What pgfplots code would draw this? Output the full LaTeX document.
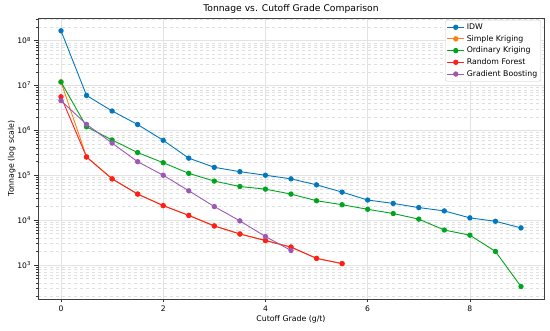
\documentclass[border=0pt]{standalone}
\usepackage{pgfplots}
\pgfplotsset{compat=1.18}
\usepackage{fontspec}
\setmainfont{DejaVu Sans}
\definecolor{cIDW}{RGB}{0,119,190}
\definecolor{cSK}{RGB}{255,127,14}
\definecolor{cOK}{RGB}{0,165,30}
\definecolor{cRF}{RGB}{255,30,30}
\definecolor{cGB}{RGB}{155,89,182}
\begin{document}
\begin{tikzpicture}
\useasboundingbox (-38pt,-31pt) rectangle (512pt,299pt);
\begin{axis}[
  at={(0,0)}, anchor=south west,
  scale only axis, width=506pt, height=281pt,
  ymode=log,
  xmin=-0.45, xmax=9.45,
  ymin=174, ymax=3.2e8,
  xtick={0,2,4,6,8},
  ytick={1e3,1e4,1e5,1e6,1e7,1e8},
  yticklabels={10\textsuperscript{3},10\textsuperscript{4},10\textsuperscript{5},10\textsuperscript{6},10\textsuperscript{7},10\textsuperscript{8}},
  minor ytick={200,300,400,500,600,700,800,900,
    2000,3000,4000,5000,6000,7000,8000,9000,
    2e4,3e4,4e4,5e4,6e4,7e4,8e4,9e4,
    2e5,3e5,4e5,5e5,6e5,7e5,8e5,9e5,
    2e6,3e6,4e6,5e6,6e6,7e6,8e6,9e6,
    2e7,3e7,4e7,5e7,6e7,7e7,8e7,9e7,
    2e8,3e8},
  /pgf/number format/assume math mode=true,
  tick align=outside,
  xtick pos=left, ytick pos=left,
  major tick length=3.5pt, minor tick length=2pt,
  tick style={black!80, line width=0.5pt},
  axis line style={black!75, line width=0.7pt},
  grid=both,
  xminorgrids=false,
  major grid style={gray!22, line width=0.5pt},
  minor grid style={gray!25, line width=0.4pt, dashed},
  ticklabel style={font=\fontsize{7.6}{9}\selectfont},
  title={Tonnage vs. Cutoff Grade Comparison},
  title style={font=\fontsize{9.2}{11}\selectfont, yshift=-5pt},
  xlabel={Cutoff Grade (g/t)},
  ylabel={Tonnage (log scale)},
  label style={font=\fontsize{7.8}{9}\selectfont},
  xlabel style={yshift=3pt},
  ylabel style={yshift=-5pt},
  legend cell align=left,
  legend style={font=\fontsize{7.8}{9}\selectfont, draw=gray!40, rounded corners=1.5pt, at={(0.994,0.993)}, anchor=north east, inner sep=1.5pt, row sep=0.3pt},
  every axis plot/.append style={line width=0.9pt, mark=*, mark size=2.2pt},
]
\addplot[cIDW, mark options={fill=cIDW}] coordinates {
(0,1.66e8) (0.5,6.0e6) (1,2.7e6) (1.5,1.35e6) (2,6.0e5) (2.5,2.4e5) (3,1.5e5) (3.5,1.2e5) (4,1.0e5) (4.5,8.3e4) (5,6.1e4) (5.5,4.2e4) (6,2.8e4) (6.5,2.35e4) (7,1.9e4) (7.5,1.6e4) (8,1.12e4) (8.5,9.4e3) (9,6.7e3)};
\addlegendentry{IDW}
\addplot[cSK, mark options={fill=cSK}] coordinates {
(0,1.2e7) (0.5,2.55e5) (1,8.3e4) (1.5,3.8e4) (2,2.1e4) (2.5,1.27e4) (3,7.4e3) (3.5,4.9e3) (4,3.5e3) (4.5,2.5e3) (5,1.4e3) (5.5,1.07e3)};
\addlegendentry{Simple Kriging}
\addplot[cOK, mark options={fill=cOK}] coordinates {
(0,1.2e7) (0.5,1.2e6) (1,6.1e5) (1.5,3.2e5) (2,1.9e5) (2.5,1.1e5) (3,7.4e4) (3.5,5.6e4) (4,4.9e4) (4.5,3.8e4) (5,2.7e4) (5.5,2.2e4) (6,1.74e4) (6.5,1.4e4) (7,1.05e4) (7.5,6.0e3) (8,4.6e3) (8.5,2.0e3) (9,330)};
\addlegendentry{Ordinary Kriging}
\addplot[cRF, mark options={fill=cRF}] coordinates {
(0,5.6e6) (0.5,2.55e5) (1,8.3e4) (1.5,3.8e4) (2,2.1e4) (2.5,1.27e4) (3,7.4e3) (3.5,4.9e3) (4,3.5e3) (4.5,2.5e3) (5,1.4e3) (5.5,1.07e3)};
\addlegendentry{Random Forest}
\addplot[cGB, mark options={fill=cGB}] coordinates {
(0,4.6e6) (0.5,1.36e6) (1,5.2e5) (1.5,2.0e5) (2,1.0e5) (2.5,4.5e4) (3,2.0e4) (3.5,9.6e3) (4,4.3e3) (4.5,2.1e3)};
\addlegendentry{Gradient Boosting}
\end{axis}
\end{tikzpicture}
\end{document}
